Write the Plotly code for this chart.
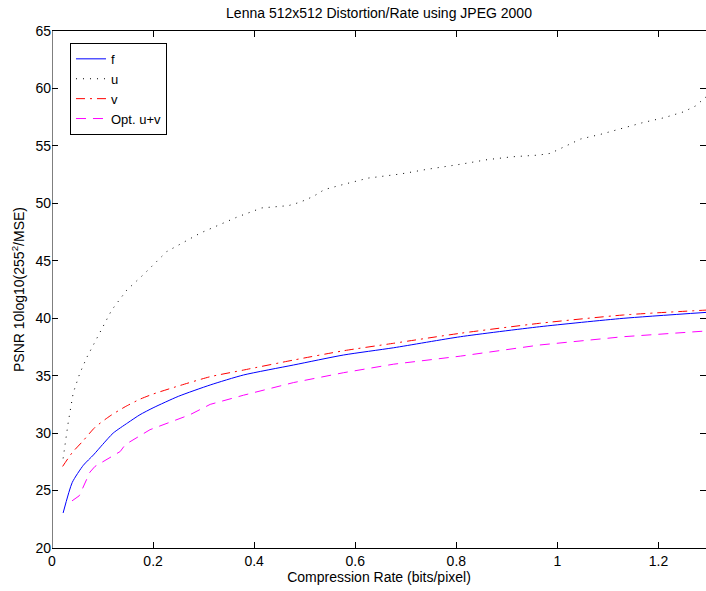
import plotly.graph_objects as go

# ---- data ----
f_x = [0.022, 0.04, 0.062, 0.082, 0.10, 0.121, 0.15, 0.174, 0.2, 0.25, 0.313, 0.379, 0.478, 0.577, 0.676, 0.808, 0.965, 1.13, 1.295]
f_y = [23.05, 25.7, 27.2, 28.1, 29.0, 30.0, 30.9, 31.6, 32.2, 33.2, 34.19, 35.06, 35.93, 36.8, 37.43, 38.39, 39.26, 39.99, 40.51]

u_x = [0.022, 0.032, 0.042, 0.055, 0.069, 0.092, 0.118, 0.148, 0.181, 0.227, 0.293, 0.366, 0.415, 0.468,
       0.491, 0.517, 0.539, 0.577, 0.626, 0.689, 0.742, 0.808, 0.861, 0.910, 0.963, 0.986, 1.012, 1.046,
       1.085, 1.125, 1.171, 1.211, 1.25, 1.273, 1.295]
u_y = [27.8, 30.9, 33.5, 35.2, 36.6, 38.5, 40.7, 42.45, 43.8, 45.8, 47.4, 48.8, 49.6, 49.8,
       50.1, 50.6, 51.2, 51.65, 52.2, 52.55, 52.96, 53.4, 53.8, 54.05, 54.2, 54.35, 54.9, 55.6,
       56.0, 56.5, 57.05, 57.45, 57.97, 58.47, 59.3]

v_x = [0.021, 0.04, 0.061, 0.085, 0.115, 0.145, 0.174, 0.2, 0.25, 0.313, 0.379, 0.478, 0.577, 0.676, 0.808, 0.965, 1.13, 1.295]
v_y = [27.1, 28.3, 29.3, 30.5, 31.5, 32.3, 32.95, 33.4, 34.1, 34.91, 35.49, 36.36, 37.17, 37.82, 38.69, 39.56, 40.28, 40.71]

o_x = [0.0396, 0.054, 0.075, 0.085, 0.135, 0.145, 0.194, 0.273, 0.313, 0.379, 0.478, 0.577, 0.676, 0.808, 0.965, 1.13, 1.295]
o_y = [24.1, 24.55, 26.6, 27.1, 28.4, 29.0, 30.3, 31.6, 32.5, 33.3, 34.4, 35.26, 36.0, 36.7, 37.67, 38.39, 38.89]

x_ticks = [0, 0.2, 0.4, 0.6, 0.8, 1, 1.2]
x_labels = ["0", "0.2", "0.4", "0.6", "0.8", "1", "1.2"]
y_ticks = [20, 25, 30, 35, 40, 45, 50, 55, 60, 65]

FONT = "Liberation Sans, Arial, Helvetica, sans-serif"
FS = 14

fig = go.Figure()
fig.add_trace(go.Scatter(x=f_x, y=f_y, mode="lines", name="f",
                         line=dict(color="#0000ff", width=1, shape="spline", smoothing=0.6)))
fig.add_trace(go.Scatter(x=u_x, y=u_y, mode="lines", name="u",
                         line=dict(color="#000000", width=1, dash="1px,6px")))
fig.add_trace(go.Scatter(x=v_x, y=v_y, mode="lines", name="v",
                         line=dict(color="#ff0000", width=1, dash="9px,5px,2px,5px",
                                   shape="spline", smoothing=0.6)))
fig.add_trace(go.Scatter(x=o_x, y=o_y, mode="lines", name="Opt. u+v",
                         line=dict(color="#ff00ff", width=1, dash="10px,7px")))

# left axis line (right side of box falls outside the picture)
fig.add_shape(type="line", xref="x", yref="paper", x0=0, x1=0, y0=0, y1=1,
              line=dict(color="black", width=1))

fig.update_layout(
    width=706, height=591,
    margin=dict(l=52, r=0, t=31, b=43),
    paper_bgcolor="white", plot_bgcolor="white",
    font=dict(family=FONT, size=FS, color="black"),
    title=dict(text="Lenna 512x512 Distortion/Rate using JPEG 2000",
               x=0.5, xref="paper", xanchor="center",
               y=1 - 13 / 591, yref="container", yanchor="middle",
               font=dict(family=FONT, size=FS, color="black")),
    showlegend=True,
    legend=dict(x=0.0275, y=0.977, xanchor="left", yanchor="top",
                bgcolor="white", bordercolor="black", borderwidth=1,
                font=dict(family=FONT, size=13, color="black"),
                tracegroupgap=0),
)
fig.update_xaxes(range=[0, 1.294], tickvals=x_ticks, ticktext=x_labels,
                 ticks="inside", ticklen=6, tickcolor="black",
                 showline=True, linecolor="black", linewidth=1, mirror="ticks",
                 showgrid=False, zeroline=False, automargin=False,
                 title=dict(text="Compression Rate (bits/pixel)", standoff=4,
                            font=dict(family=FONT, size=FS)))
fig.update_yaxes(range=[20, 65], tickvals=y_ticks,
                 ticks="inside", ticklen=6, tickcolor="black",
                 showline=False, mirror="ticks",
                 showgrid=False, zeroline=False, automargin=False,
                 title=dict(text="PSNR 10log10(255<sup>2</sup>/MSE)", standoff=7,
                            font=dict(family=FONT, size=FS)))

fig.write_html("out.html",
               config={"displayModeBar": False},
               post_script="document.body.style.margin='0px';document.body.style.overflow='hidden';")
